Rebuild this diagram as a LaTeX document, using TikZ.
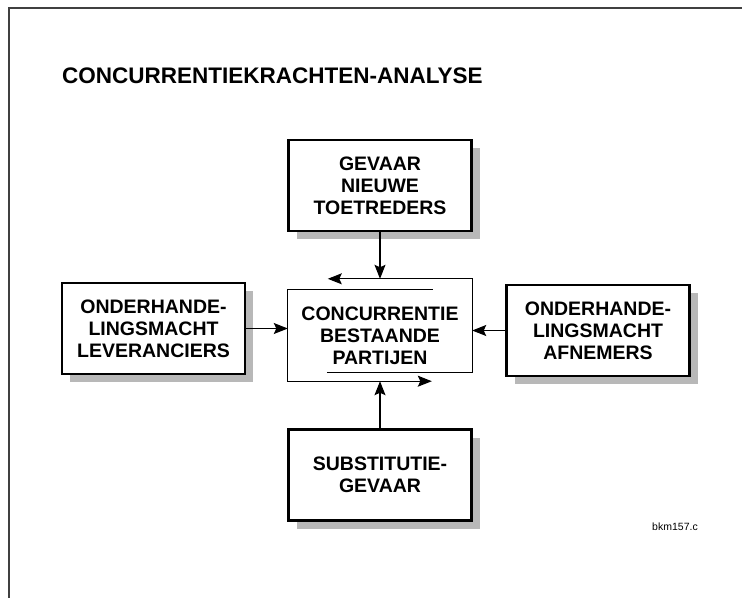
\documentclass[tikz,border=0pt]{standalone}
\usepackage{fontspec}
\setmainfont{Liberation Sans}
\usetikzlibrary{arrows.meta,shadows,calc}

\tikzset{
  forcebox/.style={draw=black, line width=2.4pt, fill=white,
    minimum width=183pt, minimum height=91pt, inner sep=0pt,
    align=center, font=\bfseries\fontsize{19.5}{22}\selectfont,
    drop shadow={shadow xshift=8pt, shadow yshift=-8pt, fill=black!28, opacity=1}},
  thinline/.style={line width=1.1pt, draw=black},
  arr/.style={thinline, -{Stealth[length=14pt, width=11pt, inset=2.5pt]}},
  frameline/.style={line width=1.2pt, draw=black!75},
}

\begin{document}
\begin{tikzpicture}[x=1pt, y=-1pt]
  \useasboundingbox (0,0) rectangle (742,598);

  % page frame (top and left edges)
  \coordinate (frTL) at (9,8);
  \coordinate (frTR) at (742,8);
  \coordinate (frBL) at (9,598);
  \draw[frameline] (frTR) -- (frTL) -- (frBL);

  % heading
  \node[anchor=base west, inner sep=0pt, font=\bfseries\fontsize{22.5}{26}\selectfont]
    (title) at (62,83) {CONCURRENTIEKRACHTEN-ANALYSE};

  % the five forces
  \node[forcebox] (entrants) at (380,185.5) {GEVAAR\\NIEUWE\\TOETREDERS};
  \node[forcebox] (suppliers) at (153.5,328.5) {ONDERHANDE-\\LINGSMACHT\\LEVERANCIERS};
  \node[forcebox] (buyers) at (598,330.5) {ONDERHANDE-\\LINGSMACHT\\AFNEMERS};
  \node[forcebox] (substitutes) at (380,475) {SUBSTITUTIE-\\GEVAAR};

  % central rivalry block, outlined by two interlocking arrows
  \node[minimum width=184pt, minimum height=91pt, inner sep=0pt, align=center,
        font=\bfseries\fontsize{19.5}{22}\selectfont]
    (rivalry) at (380,335.5) {CONCURRENTIE\\BESTAANDE\\PARTIJEN};

  \coordinate (aStart) at ($(rivalry.north west)+(145,0)$);
  \coordinate (aEnd)   at ($(rivalry.south west)+(144,0)$);
  \draw[arr] (aStart) -- (rivalry.north west) -- (rivalry.south west) -- (aEnd);

  \coordinate (bStart) at ($(rivalry.south west)+(39,-9)$);
  \coordinate (bCorner) at ($(rivalry.south east)+(0,-9)$);
  \coordinate (bTop)   at ($(rivalry.north east)+(0,-11)$);
  \coordinate (bEnd)   at ($(rivalry.north west)+(40,-11)$);
  \draw[arr] (bStart) -- (bCorner) -- (bTop) -- (bEnd);

  % forces acting on the rivalry
  \coordinate (entrantsHit) at (entrants.south |- bTop);
  \draw[arr] (entrants.south) -- (entrantsHit);
  \draw[arr] (substitutes.north) -- (rivalry.south);
  \draw[arr] (suppliers.east) -- (suppliers.east -| rivalry.west);
  \draw[arr] (buyers.west) -- (buyers.west -| rivalry.east);

  % file reference
  \node[anchor=base, inner sep=0pt, font=\fontsize{10.5}{12}\selectfont]
    (ref) at (675,530) {bkm157.c};
\end{tikzpicture}
\end{document}
